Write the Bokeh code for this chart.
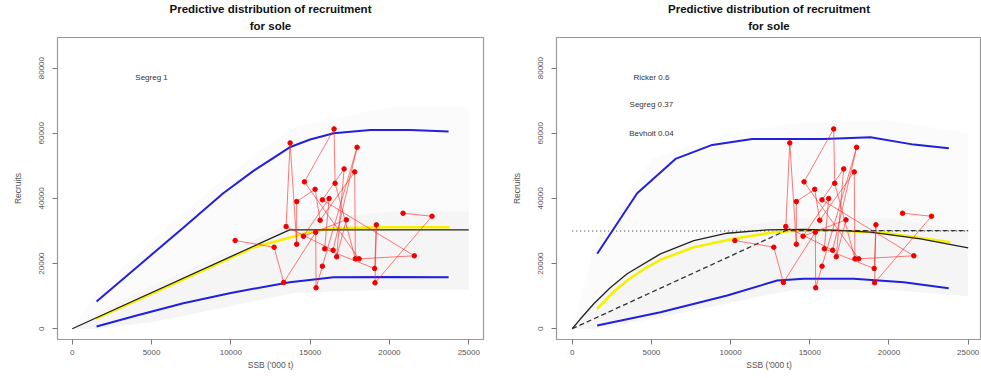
from bokeh.plotting import figure
from bokeh.layouts import row
from bokeh.models import Range1d, FixedTicker, Title
from bokeh.core.properties import value
from bokeh.embed import file_html
from bokeh.resources import INLINE

# ---------------- data ----------------
# observed stock-recruit pairs (in time order, estimated)
obs_ssb = [10271, 12728, 13333, 15349, 15374, 15771, 17958, 16446, 13484, 13736, 14152,
           14152, 15311, 15627, 17807, 17851, 16572, 16509, 14637, 18084, 21568, 15771,
           17139, 16672, 17284, 14574, 16194, 15916, 19067, 19174, 19092, 22684, 20856]
obs_rec = [27082, 25027, 14200, 29627, 12574, 19199, 55697, 24107, 31376, 57046, 25947,
           39043, 42816, 33308, 48152, 21469, 44656, 61340, 45085, 21469, 22389, 39565,
           49072, 22082, 33431, 28400, 39963, 24536, 18494, 31897, 14108, 34535, 35455]

# left panel: segmented regression
seg_x = [0, 13700, 25000]
seg_y = [0, 30360, 30360]
yl_x = [1500, 5000, 8000, 11445, 13000, 14177, 15437, 17000, 20000, 23800]
yl_y = [3100, 10700, 17300, 25030, 27000, 28615, 30150, 30900, 31150, 31160]
upl_x = [1531, 4000, 7000, 9500, 11445, 13711, 15000, 16484, 18796, 21317, 23730]
upl_y = [8373, 18600, 31000, 41500, 48550, 55700, 58100, 60000, 61030, 61030, 60510]
lol_x = [1531, 4000, 7000, 10000, 13711, 16484, 20000, 23730]
lol_y = [705, 4000, 7800, 11000, 14290, 15830, 15900, 15830]

# right panel: model averaged
ric_x = [0, 500, 1364, 2400, 3472, 5574, 7677, 9785, 12310, 14620, 16500, 18830, 21990, 25000]
ric_y = [0, 2900, 7670, 12600, 16870, 23000, 27080, 29320, 30360, 30500, 30300, 29630, 27600, 24840]
yr_x = [1578, 2500, 3472, 4500, 5574, 7677, 10200, 12727, 14500, 16730, 19886, 23880]
yr_y = [6130, 10800, 14810, 18200, 21160, 25030, 27600, 29630, 30200, 30150, 29320, 26560]
segr_x = [0, 13500, 25000]
segr_y = [0, 30150, 30150]
dot_x = [0, 25000]
dot_y = [30000, 30000]
upr_x = [1578, 4103, 6521, 8838, 11363, 15885, 18832, 21566, 23776]
upr_y = [23000, 41600, 52140, 56430, 58270, 58270, 58780, 56520, 55390]
lor_x = [1578, 5574, 9785, 12940, 14620, 17780, 20930, 23770]
lor_y = [1010, 5090, 10210, 14810, 15330, 15330, 14290, 12450]

# predictive cloud extent (approximate)
cloud_x = [0, 1500, 5000, 10000, 14000, 20000, 25000]
cloud_lo_l = [0, 0, 2000, 7000, 11000, 12000, 12000]
cloud_hi_l = [0, 11000, 27000, 48000, 62000, 68000, 68000]
core_hi_l = [0, 4500, 13000, 24000, 33000, 36000, 36000]
cloud_lo_r = [0, 0, 3000, 8000, 12000, 12000, 10000]
cloud_hi_r = [0, 27000, 52000, 60000, 63000, 64000, 60000]
core_hi_r = [0, 9000, 22000, 31000, 34000, 34000, 30000]

x_ticks = [0, 5000, 10000, 15000, 20000, 25000]
y_ticks = [0, 20000, 40000, 60000, 80000]

title_l1 = "Predictive distribution of recruitment"
title_l2 = "for sole"
left_labels = ["Segreg 1"]
left_lab_y = [77000]
right_labels = ["Ricker 0.6", "Segreg 0.37", "Bevholt 0.04"]
right_lab_y = [77000, 68700, 59800]
lab_x = 5000

FONT = "Liberation Sans"


def make_panel(width, bl, br, xr):
    p = figure(width=width, height=378, output_backend="svg", toolbar_location=None,
               x_range=Range1d(*xr), y_range=Range1d(-3300, 89400),
               min_border_left=bl, min_border_right=br, min_border_top=37,
               min_border_bottom=39)
    for i, t in enumerate([title_l2, title_l1]):
        tt = Title(text=t, align="center", text_font=FONT, text_font_size="11.5px",
                   text_font_style="bold", text_color="#111111",
                   standoff=(11 if i == 0 else -4),
                   text_line_height=(1.0 if i == 0 else 1.3))
        p.add_layout(tt, "above")
    p.grid.visible = False
    p.outline_line_color = "#999999"
    p.outline_line_width = 1.2
    p.background_fill_color = "white"
    p.border_fill_color = "white"
    for ax in (p.xaxis[0], p.yaxis[0]):
        ax.axis_line_color = None
        ax.major_tick_line_color = "#777777"
        ax.major_tick_out = 5
        ax.major_tick_in = 0
        ax.minor_tick_line_color = None
        ax.major_label_text_font = FONT
        ax.major_label_text_font_size = "8px"
        ax.major_label_text_color = "#555555"
        ax.axis_label_text_font = FONT
        ax.axis_label_text_font_size = "8.5px"
        ax.axis_label_text_font_style = "normal"
        ax.axis_label_text_color = "#555555"
    p.xaxis.ticker = FixedTicker(ticks=x_ticks)
    p.yaxis.ticker = FixedTicker(ticks=y_ticks)
    p.xaxis.axis_label = "SSB ('000 t)"
    p.yaxis.axis_label = "Recruits"
    p.yaxis.major_label_orientation = "vertical"
    p.xaxis.major_label_standoff = 5
    p.xaxis.axis_label_standoff = 2
    p.yaxis.major_label_standoff = 8
    p.yaxis.axis_label_standoff = 14
    return p


def add_obs(p):
    p.line(obs_ssb, obs_rec, line_color="#ff2020", line_width=0.8, line_alpha=0.75)
    p.scatter(obs_ssb, obs_rec, size=4.5, fill_color="#ee0000", line_color="#ee0000")


# ---------------- left ----------------
pl = make_panel(490, 57, 7, (-930, 25930))
pl.varea(x=cloud_x, y1=cloud_lo_l, y2=cloud_hi_l, fill_color="#c8c8c8", fill_alpha=0.08)
pl.varea(x=cloud_x, y1=cloud_lo_l, y2=core_hi_l, fill_color="#b0b0b0", fill_alpha=0.08)
pl.line(upl_x, upl_y, line_color="#2020dd", line_width=2)
pl.line(lol_x, lol_y, line_color="#2020dd", line_width=2)
pl.line(yl_x, yl_y, line_color="#f4f000", line_width=2.6)
pl.line(seg_x, seg_y, line_color="#222222", line_width=1.3)
add_obs(pl)
pl.text(x=[lab_x], y=left_lab_y, text=left_labels, text_align="center", text_baseline="middle",
        text_font=value(FONT), text_font_size="8px", text_color="#333333")

# ---------------- right ----------------
pr = make_panel(491, 66, 0, (-990, 25840))
pr.varea(x=cloud_x, y1=cloud_lo_r, y2=cloud_hi_r, fill_color="#c8c8c8", fill_alpha=0.08)
pr.varea(x=cloud_x, y1=cloud_lo_r, y2=core_hi_r, fill_color="#b0b0b0", fill_alpha=0.08)
pr.line(upr_x, upr_y, line_color="#2020dd", line_width=2)
pr.line(lor_x, lor_y, line_color="#2020dd", line_width=2)
pr.line(dot_x, dot_y, line_color="#333333", line_width=1.2, line_dash="1 3")
pr.line(yr_x, yr_y, line_color="#f4f000", line_width=2.6)
pr.line(segr_x, segr_y, line_color="#333333", line_width=1.3, line_dash="5 3")
pr.line(ric_x, ric_y, line_color="#222222", line_width=1.3)
add_obs(pr)
pr.text(x=[lab_x] * 3, y=right_lab_y, text=right_labels, text_align="center", text_baseline="middle",
        text_font=value(FONT), text_font_size="8px", text_color="#333333")

layout = row(pl, pr)
open("out.html", "w").write(file_html(layout, INLINE))
